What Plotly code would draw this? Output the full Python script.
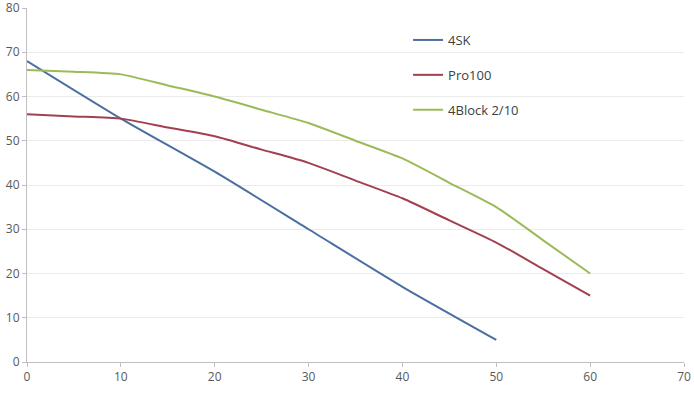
import plotly.graph_objects as go

x_4sk = [0, 10, 20, 30, 40, 50]
y_4sk = [68, 55, 43, 30, 17, 5]

x_pro = [0, 5, 10, 15, 20, 25, 30, 35, 40, 45, 50, 55, 60]
y_pro = [56, 55.5, 55, 53, 51, 48, 45, 41, 37, 32, 27, 21, 15]

x_blk = [0, 5, 10, 15, 20, 25, 30, 35, 40, 45, 50, 55, 60]
y_blk = [66, 65.6, 65, 62.5, 60, 57, 54, 50, 46, 40.5, 35, 27.5, 20]

names = ["4SK", "Pro100", "4Block 2/10"]
colors = ["#4A6FA0", "#A3404F", "#9BBB59"]

fig = go.Figure()
for i, (xs, ys) in enumerate([(x_4sk, y_4sk), (x_pro, y_pro), (x_blk, y_blk)]):
    fig.add_trace(go.Scatter(
        x=xs, y=ys, mode="lines", name=names[i], legendgroup=names[i],
        line=dict(color=colors[i], width=2, shape="spline", smoothing=0.6),
    ))

fig.update_layout(
    width=694, height=400,
    margin=dict(l=27, r=10, t=8, b=38, autoexpand=False),
    plot_bgcolor="white", paper_bgcolor="white",
    font=dict(family="Open Sans, Liberation Sans, sans-serif", size=12, color="#595959"),
    showlegend=True,
    legend=dict(x=0.58, y=0.952, xanchor="left", yanchor="top",
                tracegroupgap=15, font=dict(size=13, color="#404040"),
                bgcolor="rgba(0,0,0,0)", itemwidth=30),
)
fig.update_xaxes(range=[0, 70], dtick=10, showgrid=False, zeroline=False,
                 showline=True, linecolor="#BFBFBF", linewidth=1, automargin=False,
                 ticklabeloverflow="allow",
                 ticks="outside", ticklen=4, tickcolor="#BFBFBF")
fig.update_yaxes(range=[0, 80], dtick=10, showgrid=True, gridcolor="#EBEBEB",
                 zeroline=False, showline=True, linecolor="#BFBFBF", linewidth=1,
                 automargin=False, ticklabeloverflow="allow",
                 ticks="outside", ticklen=4, tickcolor="#BFBFBF")

fig.write_html("out.html", config={"displayModeBar": False},
               post_script="document.body.style.margin='0';")
